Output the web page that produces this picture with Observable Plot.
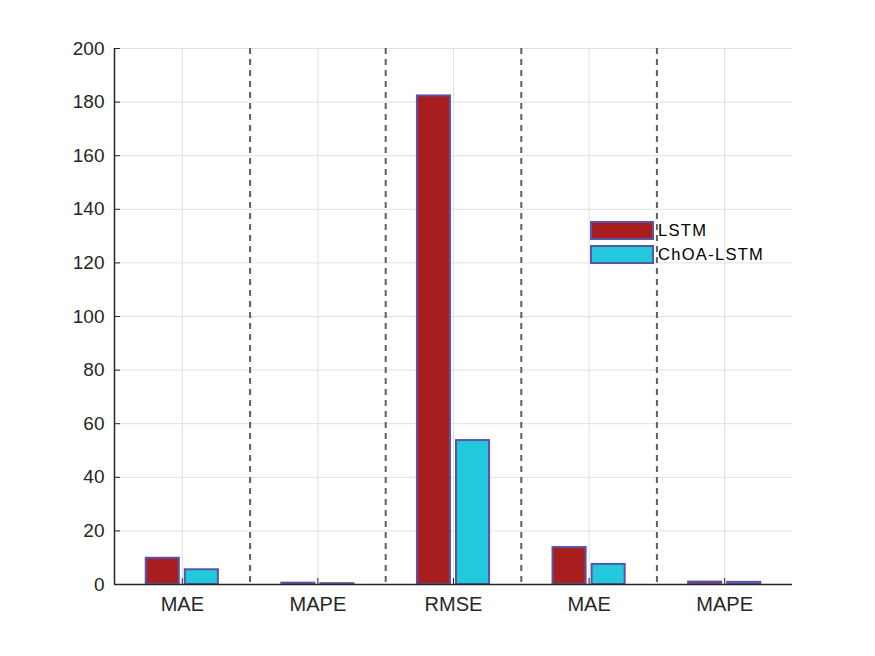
<!DOCTYPE html>
<html>
<head>
<meta charset="utf-8">
<script src="https://cdn.jsdelivr.net/npm/d3@7"></script>
<script src="https://cdn.jsdelivr.net/npm/@observablehq/plot@0.6"></script>
<style>
  body { margin: 0; background: #fff; font-family: "Liberation Sans", Arial, sans-serif; }
  #wrap { position: relative; width: 875px; height: 656px; }
  #legend { position: absolute; left: 590px; top: 218px; font-size: 16.5px; letter-spacing: 1.3px; color: #000; }
  .row { display: flex; align-items: center; height: 24px; }
  .sw { width: 60px; height: 15px; border: 2px solid #5a54a4; margin-right: 4px; }
  svg text { font-family: "Liberation Sans", Arial, sans-serif; }
  g[aria-label="y-axis tick label"], g[aria-label="y-axis tick label"] text { font-size: 19px !important; }
  g[aria-label="x-axis tick label"], g[aria-label="x-axis tick label"] text { font-size: 20px !important; }
</style>
</head>
<body>
<div id="wrap"><div id="legend"></div></div>
<script>
const categories = ["MAE", "MAPE", "RMSE", "MAE", "MAPE"];
const seriesNames = ["LSTM", "ChOA-LSTM"];
const lstm = [9.8, 0.5, 182.3, 13.8, 0.9];
const choa = [5.5, 0.3, 53.7, 7.5, 0.8];
const yTicks = [0, 20, 40, 60, 80, 100, 120, 140, 160, 180, 200];
const colors = ["#a81e1e", "#22c9dc"];
const edge = "#5a54a4";

const pos = categories.map((c, i) => i + 1);
const bars = [];
categories.forEach((c, i) => {
  bars.push({pos: i + 1, series: seriesNames[0], value: lstm[i], side: -1});
  bars.push({pos: i + 1, series: seriesNames[1], value: choa[i], side: 1});
});
const barW = 0.244, off = 0.144;
const boundaries = pos.slice(0, -1).map(p => p + 0.5);

const chart = Plot.plot({
  width: 875,
  height: 656,
  marginLeft: 114,
  marginRight: 83,
  marginTop: 48,
  marginBottom: 72,
  style: {fontFamily: "'Liberation Sans', Arial, sans-serif", fontSize: "18px", color: "#262626", background: "#fff"},
  x: {type: "linear", domain: [0.5, 5.5], axis: null},
  y: {domain: [0, 200], axis: null},
  color: {domain: seriesNames, range: colors},
  marks: [
    Plot.gridY(yTicks, {stroke: "#e0e0e0", strokeOpacity: 1, strokeWidth: 1}),
    Plot.gridX(pos, {stroke: "#e0e0e0", strokeOpacity: 1, strokeWidth: 1}),
    Plot.ruleX(boundaries, {stroke: "#5f5f5f", strokeWidth: 2, strokeDasharray: "6,5"}),
    Plot.rectY(bars, {
      x1: d => d.pos + d.side * off - barW / 2,
      x2: d => d.pos + d.side * off + barW / 2,
      y1: 0,
      y2: "value",
      fill: "series",
      stroke: edge,
      strokeWidth: 2
    }),
    Plot.axisY(yTicks, {anchor: "left", label: null, tickSize: 0, tickPadding: 10, fill: "#262626"}),
    Plot.ruleY(yTicks, {x1: 0.5, x2: 0.5 + 6 / 677 * 5, stroke: "#262626"}),
    Plot.axisX(pos, {anchor: "bottom", label: null, tickSize: 0, tickPadding: 12, fill: "#262626", tickFormat: (d) => categories[d - 1]}),
    Plot.ruleX(pos, {y1: 0, y2: 6 / 536 * 200, stroke: "#262626"}),
    Plot.ruleX([0.5], {stroke: "#262626", strokeWidth: 1.5}),
    Plot.ruleY([0], {stroke: "#262626", strokeWidth: 1.5})
  ]
});
document.getElementById("wrap").prepend(chart);

const legend = document.getElementById("legend");
seriesNames.forEach((s, i) => {
  const row = document.createElement("div");
  row.className = "row";
  const sw = document.createElement("div");
  sw.className = "sw";
  sw.style.background = colors[i];
  const t = document.createElement("span");
  t.textContent = s;
  row.appendChild(sw);
  row.appendChild(t);
  legend.appendChild(row);
});
</script>
</body>
</html>
